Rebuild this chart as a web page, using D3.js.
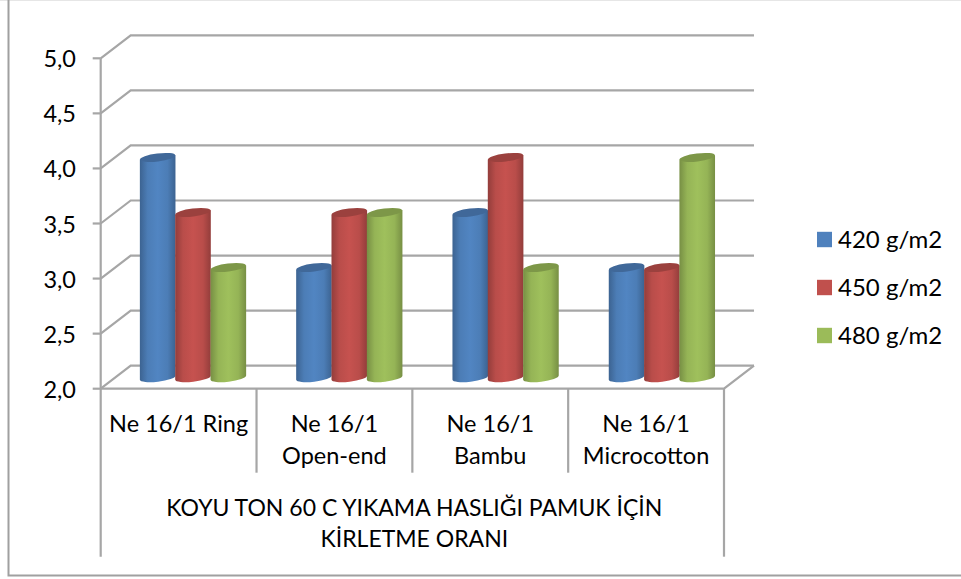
<!DOCTYPE html>
<html><head><meta charset="utf-8"><script src="https://cdn.jsdelivr.net/npm/d3@7"></script>
<style>html,body{margin:0;background:#fff}svg{display:block}text{font-family:Lato,"Open Sans",sans-serif;fill:#000}</style></head>
<body><svg id="c" width="961" height="579"></svg>
<script>
const categories=[["Ne 16/1 Ring"],["Ne 16/1","Open-end"],["Ne 16/1","Bambu"],["Ne 16/1","Microcotton"]];
const seriesNames=["420 g/m2","450 g/m2","480 g/m2"];
const s420=[4,3,3.5,3];
const s450=[3.5,3.5,4,3];
const s480=[3,3.5,3,4];
const yTicks=[2,2.5,3,3.5,4,4.5,5];
const groupTitle=["KOYU TON 60 C YIKAMA HASLIĞI PAMUK İÇİN","KİRLETME ORANI"];
const series=[s420,s450,s480];
const base=["#4F81BD","#C0504D","#9BBB59"];
const depth={x:30,y:-23};
const mid={y:-11};
const grid="#A6A6A6";
const svg=d3.select("#c");
const y=d3.scaleLinear().domain([2,5]).range([388.7,58.3]);
const x=d3.scaleBand().domain(d3.range(4)).range([100.7,724]);
const xb=d3.scaleBand().domain(d3.range(4)).range([140,765.2]);
const x1=d3.scaleBand().domain(d3.range(3)).range([0,106]);
const frame=svg.append("g").attr("fill","none");
frame.append("path").attr("d","M0,0.5H961").attr("stroke","#E6E6E6").attr("stroke-width",1);
frame.append("path").attr("d","M8.5,0V575.5H961").attr("stroke","#A0A0A0").attr("stroke-width",2);
const g=svg.append("g").attr("fill","none").attr("stroke",grid).attr("stroke-width",2.2);
const L=x.range()[0],R=x.range()[1];
yTicks.forEach(t=>{
  g.append("path").attr("d",`M${L},${y(t)}L${L+depth.x},${y(t)+depth.y}L${R+depth.x},${y(t)+depth.y}`);
  g.append("path").attr("d",`M${L-8},${y(t)}L${L},${y(t)}`);
});
g.append("path").attr("d",`M${L},${y(5)}V556.7`);
g.append("path").attr("d",`M${L},${y(2)}H${R}L${R+depth.x},${y(2)+depth.y}`);
g.append("path").attr("d",`M${R},${y(2)}V556.7`);
x.domain().forEach((d,i)=>{ if(i>0) g.append("path").attr("d",`M${x(d)},${y(2)}V472.7`); });
svg.selectAll(".yl").data(yTicks).join("text").attr("x",76).attr("y",t=>y(t)+9).attr("text-anchor","end").attr("font-size",23.5).text(t=>d3.format(".1f")(t).replace(".",","));
const defs=svg.append("defs");
base.forEach((c,i)=>{
  const lg=defs.append("linearGradient").attr("id","g"+i);
  const dk=d3.color(c).darker(0.75).formatHex(), lt=d3.color(c).brighter(0.08).formatHex();
  [[0,dk],[0.22,d3.interpolateRgb(dk,lt)(0.75)],[0.5,lt],[0.78,d3.interpolateRgb(dk,lt)(0.75)],[1,dk]].forEach(s=>lg.append("stop").attr("offset",s[0]).attr("stop-color",s[1]));
});
const rx=17.8, ry=4, ang=-7;
function cyl(gr,cx,v,i){
  const t=y(v)+mid.y, b=y(2)+mid.y;
  const dy=rx*Math.sin(ang*Math.PI/180);
  const l=cx-rx,r=cx+rx;
  gr.append("path").attr("fill",`url(#g${i})`)
    .attr("d",`M${l},${t-dy}L${l},${b-dy}A${rx},${ry} ${ang} 0 0 ${r},${b+dy}L${r},${t+dy}Z`);
  gr.append("ellipse").attr("cx",cx).attr("cy",t).attr("rx",rx).attr("ry",ry).attr("transform",`rotate(${ang} ${cx} ${t})`).attr("fill",d3.color(base[i]).darker(0.6).formatHex());
}
categories.forEach((c,k)=>{
  const gr=svg.append("g").attr("transform",`translate(${xb(k)},0)`);
  series.forEach((s,i)=>cyl(gr,x1(i)+x1.bandwidth()/2,s[k],i));
  const cx=x(k)+x.bandwidth()/2;
  c.forEach((ln,j)=>svg.append("text").attr("x",cx).attr("y",431.5+j*32.5).attr("text-anchor","middle").attr("font-size",23.5).text(ln));
});
groupTitle.forEach((ln,j)=>svg.append("text").attr("x",(L+R)/2+2).attr("y",515.5+j*31.5).attr("text-anchor","middle").attr("font-size",23).text(ln));
const leg=d3.scalePoint().domain(seriesNames).range([239.5,335.5]);
seriesNames.forEach((n,i)=>{
  svg.append("rect").attr("x",817).attr("y",leg(n)-7.7).attr("width",15).attr("height",15.4).attr("fill",base[i]);
  svg.append("text").attr("x",838).attr("y",leg(n)+8.5).attr("font-size",24).text(n);
});
</script></body></html>
